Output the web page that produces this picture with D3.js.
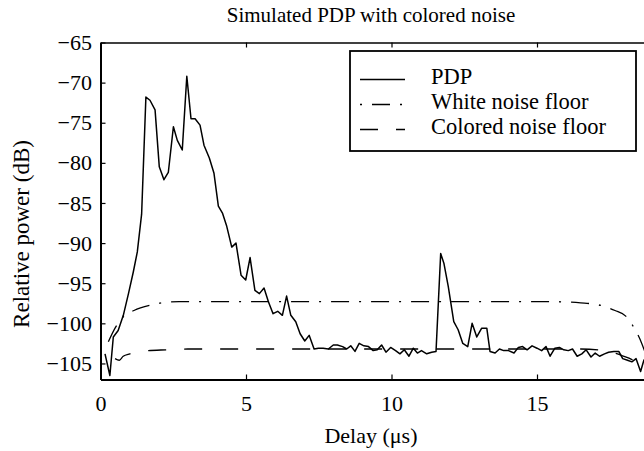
<!DOCTYPE html>
<html><head><meta charset="utf-8">
<script src="https://cdn.jsdelivr.net/npm/d3@7"></script>
<style>
html,body{margin:0;padding:0;background:#fff;overflow:hidden}
svg{display:block}
svg text{font-family:"Liberation Serif","Times New Roman",serif}
</style></head>
<body><svg id="c" width="644" height="451"></svg>
<script>
// ---- data ----
const pdpX = [0.155,0.322,0.44,0.607,0.784,0.961,1.127,1.265,1.413,1.56,1.70,1.875,2.02,2.18,2.33,2.505,2.64,2.81,2.966,3.11,3.25,3.42,3.556,3.74,3.90,4.05,4.196,4.33,4.51,4.656,4.83,4.99,5.14,5.306,5.46,5.62,5.77,5.93,6.09,6.25,6.395,6.54,6.71,6.86,7.02,7.17,7.34,7.49,7.65,7.83,8.0,8.14,8.32,8.46,8.60,8.745,8.89,9.05,9.21,9.37,9.51,9.66,9.81,9.97,10.14,10.29,10.44,10.60,10.75,10.89,11.03,11.21,11.38,11.53,11.69,11.80,11.95,12.14,12.29,12.45,12.62,12.77,12.93,13.10,13.275,13.385,13.56,13.71,13.855,14.02,14.21,14.36,14.505,14.66,14.83,15.0,15.16,15.31,15.45,15.615,15.77,15.92,16.075,16.22,16.38,16.54,16.69,16.855,17.0,17.15,17.32,17.46,17.64,17.81,17.945,18.11,18.26,18.405,18.56,18.68];
const pdpY = [-103.8,-106.5,-101.7,-100.9,-99.0,-96.3,-93.6,-91.1,-86.4,-71.8,-72.2,-73.4,-80.5,-82.1,-81.2,-75.5,-77.2,-78.4,-69.2,-74.5,-74.5,-75.3,-77.8,-79.4,-81.3,-85.4,-86.3,-87.8,-90.5,-90.0,-94.0,-94.6,-91.8,-95.9,-96.3,-95.6,-97.3,-98.8,-98.5,-99.0,-96.6,-99.0,-99.8,-101.3,-102.2,-101.5,-103.2,-103.1,-103.1,-103.2,-102.7,-102.7,-102.9,-103.2,-102.8,-103.5,-102.5,-102.8,-102.9,-103.4,-103.3,-102.7,-103.6,-103.0,-103.4,-103.8,-103.3,-104.1,-103.1,-103.7,-103.4,-103.8,-103.6,-103.5,-91.3,-92.5,-95.4,-99.8,-100.8,-102.5,-102.9,-100.0,-101.7,-100.6,-100.6,-103.5,-103.7,-103.2,-103.4,-103.4,-103.7,-103.0,-102.9,-103.3,-102.8,-103.1,-103.4,-102.9,-104.1,-103.1,-103.0,-103.3,-103.4,-103.2,-104.1,-103.8,-103.3,-104.2,-103.7,-104.1,-103.8,-103.6,-103.5,-103.5,-104.4,-104.6,-104.8,-104.4,-106.0,-104.5];
const whiteX = [0.27,0.5,0.75,1.15,1.76,2.2,2.7,4,8,12,15.5,16.5,17.11,17.68,18.05,18.31,18.6,18.75];
const whiteY = [-102.3,-100.6,-99.3,-98.4,-97.7,-97.4,-97.3,-97.3,-97.3,-97.3,-97.3,-97.45,-97.7,-98.4,-99.1,-100.4,-102.5,-104.0];
const colorX = [0.5,0.646,0.78,1.01,1.64,2.27,3,8,12,16.5,17.3,17.9,18.3,18.6,18.75];
const colorY = [-104.4,-104.6,-104.1,-103.8,-103.4,-103.3,-103.2,-103.2,-103.2,-103.2,-103.4,-104.0,-104.6,-105.5,-106.2];
const xTicks = [0,5,10,15];
const yTicks = [-105,-100,-95,-90,-85,-80,-75,-70,-65];
const legendLabels = ["PDP","White noise floor","Colored noise floor"];

// ---- layout ----
const FONT = "Liberation Serif, Times New Roman, serif";
const L = 100.5, T = 42.5, B = 379.5;
const x = d3.scaleLinear().domain([0,19]).range([L, L + 19*29.1]);
const y = d3.scaleLinear().domain([-107,-65]).range([B, T]);
const svg = d3.select("#c");
const R = x(19);
const CX = 371;

svg.append("defs").append("clipPath").attr("id","pc")
  .append("rect").attr("x",L).attr("y",T).attr("width",R-L).attr("height",B-T);

const line = d3.line().x(d=>x(d[0])).y(d=>y(d[1]));
const smooth = d3.line().x(d=>x(d[0])).y(d=>y(d[1])).curve(d3.curveMonotoneX);
const g = svg.append("g").attr("clip-path","url(#pc)");

g.append("path").datum(whiteX.map((v,i)=>[v,whiteY[i]])).attr("d",smooth)
  .attr("fill","none").attr("stroke","#000").attr("stroke-width",1.3).attr("stroke-dasharray","18,10,2,10");
g.append("path").datum(colorX.map((v,i)=>[v,colorY[i]])).attr("d",smooth)
  .attr("fill","none").attr("stroke","#000").attr("stroke-width",1.3).attr("stroke-dasharray","18,18");
g.append("path").datum(pdpX.map((v,i)=>[v,pdpY[i]])).attr("d",line)
  .attr("fill","none").attr("stroke","#000").attr("stroke-width",1.5).attr("stroke-linejoin","round");

// axes
const fs = 22;
const xb = svg.append("g").attr("transform",`translate(0,${B})`)
  .call(d3.axisBottom(x).tickValues(xTicks).tickSizeInner(-5).tickSizeOuter(0).tickPadding(16).tickFormat(d3.format("d")));
const xt = svg.append("g").attr("transform",`translate(0,${T})`)
  .call(d3.axisTop(x).tickValues(xTicks).tickSizeInner(-5).tickSizeOuter(0).tickFormat(""));
const yl = svg.append("g").attr("transform",`translate(${L},0)`)
  .call(d3.axisLeft(y).tickValues(yTicks).tickSizeInner(-5).tickSizeOuter(0).tickPadding(8.5).tickFormat(d=>"\u2212"+Math.abs(d)));
[xb,xt,yl].forEach(a=>{
  a.attr("font-family",FONT).attr("font-size",fs);
  a.selectAll("text").attr("font-family",FONT).attr("font-size",fs).attr("fill","#000");
  a.selectAll(".domain").attr("stroke","#000").attr("stroke-width",2);
  a.selectAll(".tick line").attr("stroke","#000").attr("stroke-width",1.2);
});
xt.select(".domain").attr("stroke-width",1.5);

// title & labels
svg.append("text").attr("x",CX).attr("y",22).attr("text-anchor","middle").attr("font-family",FONT)
  .attr("font-size",21).text("Simulated PDP with colored noise");
svg.append("text").attr("x",CX).attr("y",443).attr("text-anchor","middle").attr("font-family",FONT)
  .attr("font-size",22).text("Delay (\u03bcs)");
svg.append("text").attr("transform",`translate(29,234) rotate(-90)`).attr("text-anchor","middle").attr("font-family",FONT)
  .attr("font-size",23).text("Relative power (dB)");

// legend
const lg = svg.append("g");
lg.append("rect").attr("x",350).attr("y",51).attr("width",286).attr("height",100)
  .attr("fill","#fff").attr("stroke","#000").attr("stroke-width",1.8);
const dashes = [null,"18,10,2,10","18,18"];
const offs = [0,28,0];
const ly = [79.5,104.5,129.5];
legendLabels.forEach((t,i)=>{
  lg.append("line").attr("x1",360).attr("x2",405).attr("y1",ly[i]).attr("y2",ly[i])
    .attr("stroke","#000").attr("stroke-width",1.3)
    .attr("stroke-dasharray",dashes[i]).attr("stroke-dashoffset",offs[i]);
  lg.append("text").attr("x",431).attr("y",ly[i]+4).attr("font-family",FONT).attr("font-size",22.5).text(t);
});
</script></body></html>
